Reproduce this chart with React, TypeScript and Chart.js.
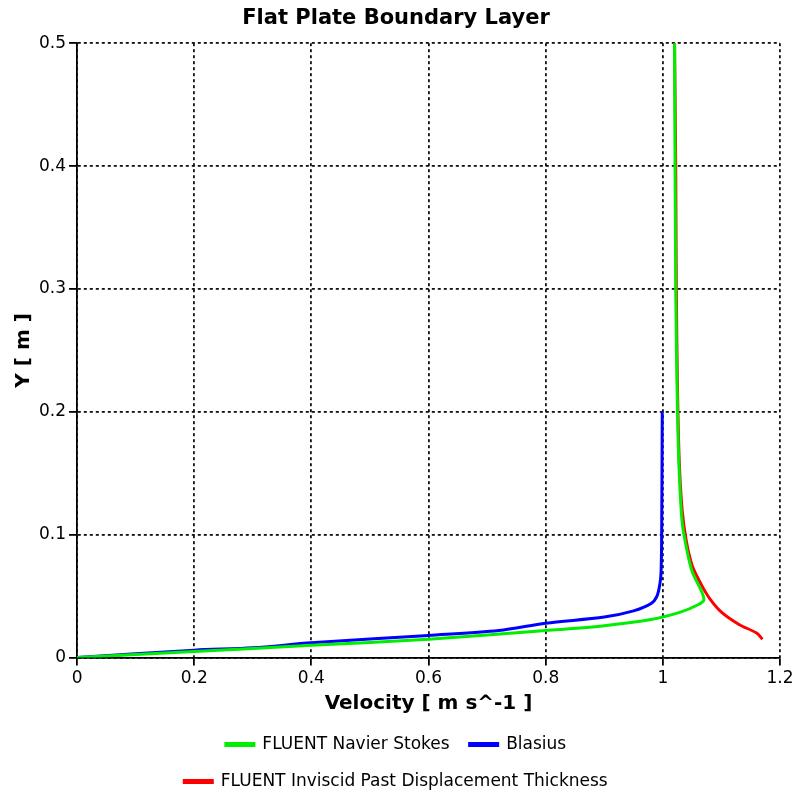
import React, { useEffect, useRef } from "react";
import { Chart, registerables } from "chart.js";
Chart.register(...registerables);

const inviscidX = [1.17, 1.16, 1.13, 1.10, 1.08, 1.065, 1.05, 1.04, 1.033, 1.028, 1.025, 1.023, 1.022, 1.02];
const inviscidY = [0.015, 0.02, 0.027, 0.037, 0.048, 0.06, 0.075, 0.095, 0.12, 0.16, 0.22, 0.3, 0.4, 0.5];
const blasiusX = [0, 0.2, 0.3, 0.4, 0.6, 0.72, 0.8, 0.9, 0.95, 0.98, 0.99, 0.995, 0.997, 0.998, 0.999];
const blasiusY = [0, 0.006, 0.008, 0.012, 0.018, 0.022, 0.028, 0.033, 0.038, 0.044, 0.05, 0.06, 0.07, 0.1, 0.2];
const nsX = [0, 0.2, 0.4, 0.6, 0.8, 0.9, 0.98, 1.03, 1.06, 1.07, 1.065, 1.05, 1.04, 1.033, 1.028, 1.025, 1.022, 1.02];
const nsY = [0, 0.005, 0.01, 0.015, 0.022, 0.026, 0.031, 0.037, 0.043, 0.047, 0.055, 0.07, 0.09, 0.11, 0.15, 0.2, 0.3, 0.5];

const pts = (xs: number[], ys: number[]) => xs.map((x, i) => ({ x, y: ys[i] }));
const FONT = "'DejaVu Sans', sans-serif";

export default function App() {
  const ref = useRef<HTMLCanvasElement>(null);
  useEffect(() => {
    const grid = {
      color: "#111",
      lineWidth: 1.8,
      tickColor: "#000",
      tickLength: 8,
      drawTicks: true,
    };
    const orders = [2, 1, 0];
    const chart = new Chart(ref.current!, {
      type: "scatter",
      data: {
        datasets: [
          { label: "FLUENT Inviscid Past Displacement Thickness", data: pts(inviscidX, inviscidY), borderColor: "#ff0000", backgroundColor: "#ff0000" },
          { label: "Blasius", data: pts(blasiusX, blasiusY), borderColor: "#0000ff", backgroundColor: "#0000ff" },
          { label: "FLUENT Navier Stokes", data: pts(nsX, nsY), borderColor: "#00ee00", backgroundColor: "#00ee00" },
        ].map((d, i) => ({ ...d, order: orders[i], showLine: true, pointRadius: 0, borderWidth: 3, tension: 0.3 })),
      },
      options: {
        animation: false,
        responsive: false,
        layout: { padding: { top: 0, right: 20, left: 12, bottom: 0 } },
        plugins: {
          title: { display: true, text: "Flat Plate Boundary Layer", color: "#000", font: { family: FONT, size: 21, weight: "bold" }, padding: { top: 6, bottom: 12 } },
          legend: {
            position: "bottom",
            align: "center",
            labels: { color: "#000", font: { family: FONT, size: 17 }, boxWidth: 28, boxHeight: 2, padding: 20 },
          },
          tooltip: { enabled: false },
        },
        scales: {
          x: {
            type: "linear", min: 0, max: 1.2,
            ticks: { stepSize: 0.2, color: "#000", font: { family: FONT, size: 17 }, callback: (v: any) => String(Math.round(v * 10) / 10) },
            grid: { ...grid },
            border: { display: true, color: "#000", width: 1.8, dash: [3, 3] },
            title: { display: true, text: "Velocity [ m s^-1 ]", color: "#000", font: { family: FONT, size: 20, weight: "bold" }, padding: 0 },
          },
          y: {
            type: "linear", min: 0, max: 0.5,
            ticks: { stepSize: 0.1, color: "#000", font: { family: FONT, size: 17 }, callback: (v: any) => String(Math.round(v * 10) / 10) },
            grid: { ...grid },
            border: { display: true, color: "#000", width: 1.8, dash: [3, 3] },
            title: { display: true, text: "Y [ m ]", color: "#000", font: { family: FONT, size: 20, weight: "bold" }, padding: 0 },
          },
        },
      } as any,
    });
    return () => chart.destroy();
  }, []);
  return (
    <div style={{ position: "absolute", left: 0, top: 0, width: 800, height: 800, background: "#fff" }}>
      <canvas ref={ref} width={800} height={800} />
    </div>
  );
}
